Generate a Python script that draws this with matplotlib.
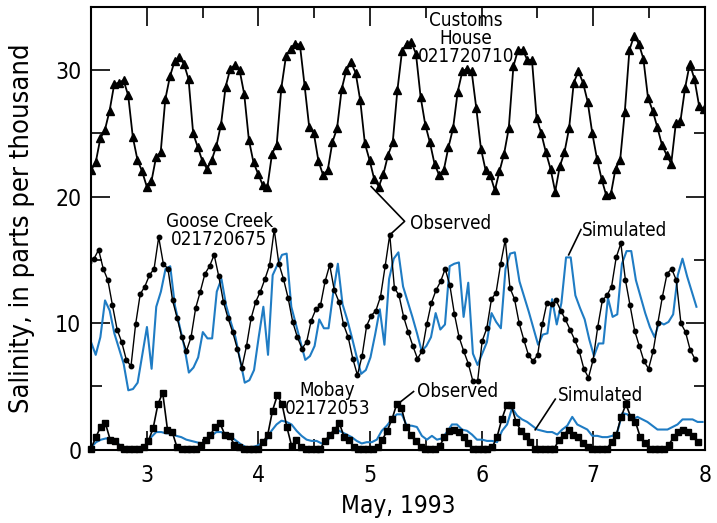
import matplotlib
matplotlib.use("Agg")
import matplotlib.pyplot as plt
import numpy as np
from matplotlib.ticker import MultipleLocator

plt.rcParams['font.family'] = ['DejaVu Sans']
plt.rcParams['font.stretch'] = 'condensed'

BLUE = '#1f7cc4'

# Customs House 021720710, observed (hourly)
customs_obs = [22.1, 22.7, 24.6, 25.3, 26.8, 28.9, 29.0, 29.2, 28.0, 24.7,
               22.9, 22.0, 20.8, 21.2, 23.1, 23.5, 27.7, 29.5, 30.7, 31.0,
               30.5, 29.3, 25.0, 23.9, 22.8, 22.2, 22.9, 24.0, 25.7, 28.7,
               30.1, 30.4, 30.0, 28.1, 24.5, 22.7, 21.8, 20.9, 20.8, 23.4,
               24.1, 28.6, 31.1, 31.7, 32.1, 32.0, 28.8, 25.5, 25.0, 22.8,
               21.7, 22.1, 24.3, 25.4, 28.5, 30.0, 30.6, 29.8, 27.6, 24.2,
               22.9, 21.4, 20.8, 21.8, 23.3, 24.3, 28.4, 31.5, 32.1, 32.2,
               31.3, 27.9, 25.7, 24.3, 22.6, 21.7, 22.1, 23.9, 25.4, 28.3,
               29.9, 30.1, 29.9, 27.0, 23.8, 22.1, 21.7, 20.5, 22.0, 23.4,
               25.4, 30.3, 31.6, 31.6, 30.8, 30.8, 26.2, 25.0, 23.5, 22.2,
               20.4, 22.4, 23.5, 25.4, 29.0, 29.9, 29.0, 27.5, 25.0, 23.0,
               21.4, 20.1, 20.2, 22.2, 22.9, 26.7, 31.6, 32.7, 32.1, 30.9,
               27.8, 26.8, 25.5, 24.1, 23.3, 22.6, 25.8, 26.0, 28.6, 30.5,
               29.3, 27.2, 26.9]

# Goose Creek 021720675
goose_obs = [14.8, 15.1, 15.8, 14.3, 13.4, 11.4, 9.5, 8.5, 7.1, 6.6,
             9.9, 12.3, 12.9, 13.8, 14.3, 16.8, 14.7, 14.3, 11.8, 10.4,
             8.9, 7.8, 8.9, 11.2, 12.5, 13.9, 14.5, 15.4,
             13.7, 11.7, 10.4, 9.3, 8.0, 6.5, 8.2, 10.4, 11.7, 12.5,
             13.5, 14.6, 17.4, 14.7, 13.5, 12.0, 10.1, 8.9, 8.0, 8.5,
             10.2, 11.1, 11.4, 13.3, 14.6, 12.6,
             11.7, 9.9, 8.9, 7.2, 5.9, 7.4, 9.8, 10.6, 11.0, 12.1,
             14.5, 17.0, 12.8, 12.2, 10.5, 9.3, 8.2, 7.2, 7.8, 9.9,
             11.6, 12.6, 13.3, 14.3, 13.0, 10.7, 8.9,
             7.8, 6.8, 5.4, 5.4, 8.6, 9.6, 11.9, 12.4, 14.7, 16.6,
             12.8, 11.9, 10.0, 8.7, 7.5, 7.0, 7.5, 9.9, 11.6, 11.5,
             11.8, 11.0, 10.3, 9.5, 8.7, 7.8,
             6.4, 5.7, 7.1, 9.7, 11.8, 12.2, 12.9, 15.2, 16.3, 13.4,
             11.4, 9.4, 8.2, 7.0, 6.4, 7.8, 10.0, 12.1, 13.9, 14.3,
             13.4, 10.0, 9.3, 7.9, 7.2]
goose_sim = [8.5, 7.5, 8.9, 11.8, 11.0, 9.2, 8.0, 6.8, 4.7, 4.8,
             5.3, 7.5, 9.7, 6.4, 11.3, 12.5, 14.3, 14.5, 11.4, 9.8,
             8.2, 6.1, 6.5, 7.3, 9.3, 8.8, 8.8, 12.5, 13.5, 11.4,
             10.1, 8.9, 7.1, 5.3, 5.5, 6.3, 8.9, 11.3, 7.5, 13.8,
             14.6, 15.4, 15.5, 11.3, 9.9, 8.5, 7.1, 7.4, 8.2, 10.3,
             9.6, 9.6, 12.4, 14.7, 11.5, 10.3, 8.9, 7.4, 6.0, 6.3,
             7.3, 9.1, 11.1, 8.3, 13.5, 15.1, 15.6, 12.9, 11.7, 10.5,
             9.2, 7.8, 8.2, 8.9, 10.8, 9.5, 9.9, 14.5, 14.7, 14.8,
             10.5, 13.2, 7.6, 6.7, 7.6, 8.5, 10.8, 10.1, 9.6, 14.3,
             15.5, 15.6, 13.3, 12.1, 10.9, 9.6, 8.3, 9.1, 9.2, 11.9,
             9.9, 11.6, 15.2, 15.2, 12.2, 11.2, 10.3, 8.7, 7.4, 8.4,
             8.4, 12.0, 10.5, 10.7, 14.7, 15.7, 15.7, 13.4, 12.1, 10.8,
             9.7, 8.9, 10.1, 9.9, 10.1, 10.7, 13.8, 15.1, 13.7, 12.5,
             11.3]

# Mobay 02172053
mobay_obs = [0.1, 1.0, 1.8, 2.1, 0.8, 0.7, 0.2, 0.1, 0.1, 0.1,
             0.1, 0.2, 0.7, 1.7, 3.6, 4.5, 1.6, 1.4, 0.2, 0.1,
             0.1, 0.1, 0.1, 0.4, 0.8, 1.2, 1.8, 2.1, 1.2, 1.1,
             0.4, 0.2, 0.1, 0.1, 0.1, 0.1, 0.6, 1.2, 3.1, 4.3,
             3.6, 1.8, 0.3, 0.8, 0.2, 0.1, 0.1, 0.1, 0.1, 0.7,
             1.2, 1.6, 2.1, 1.0, 0.8, 0.2, 0.1, 0.1, 0.1, 0.1,
             0.2, 0.8, 1.5, 2.4, 3.6, 3.3, 1.8, 1.2, 0.7, 0.2,
             0.1, 0.1, 0.1, 0.3, 1.0, 1.5, 1.6, 1.4, 1.0, 0.5,
             0.1, 0.1, 0.1, 0.1, 0.2, 1.0, 2.4, 3.5, 3.5, 2.2,
             1.5, 1.1, 0.6, 0.1, 0.1, 0.1, 0.1, 0.1, 0.8, 1.2,
             1.6, 1.2, 1.0, 0.5, 0.2, 0.1, 0.1, 0.1, 0.1, 0.6,
             1.2, 2.6, 3.6, 2.6, 2.2, 1.0, 0.5, 0.1, 0.1, 0.1,
             0.1, 0.4, 1.0, 1.4, 1.6, 1.4, 1.1, 0.6]
mobay_sim = [0.2, 0.6, 0.8, 0.9, 0.8, 0.6, 0.3, 0.1, 0.1, 0.1,
             0.1, 0.3, 1.0, 1.4, 1.4, 1.3, 1.3, 1.1, 1.0, 0.8,
             0.7, 0.6, 0.5, 0.7, 1.1, 1.4, 1.4, 1.1, 1.0, 0.7,
             0.4, 0.2, 0.2, 0.3, 0.5, 0.8, 1.5, 2.0, 2.3, 2.2,
             2.0, 1.5, 1.1, 0.8, 0.7, 0.7, 0.5, 0.6, 1.2, 1.6,
             1.4, 1.2, 1.0, 0.7, 0.5, 0.6, 0.6, 0.8, 1.5, 1.9,
             2.4, 2.8, 2.8, 1.9, 1.9, 1.8, 1.1, 0.8, 1.1, 0.8,
             0.9, 1.4, 2.0, 2.0, 1.6, 1.5, 1.2, 0.8, 0.8, 0.7,
             0.7, 0.6, 1.5, 2.0, 3.3, 2.7, 2.4, 2.2, 1.9, 1.6,
             1.5, 1.4, 1.4, 1.2, 1.6, 1.9, 2.6, 2.0, 1.8, 1.6,
             1.1, 1.1, 1.0, 1.0, 1.1, 1.4, 2.9, 2.8, 2.4, 2.6,
             2.4, 2.2, 1.9, 1.6, 1.6, 1.6, 1.8, 2.0, 2.4, 2.4,
             2.4, 2.2, 2.2]

# time spans (day of May 1993) covered by each record
customs_span = (2.50, 7.99)
goose_obs_span = (2.485, 7.91)
goose_sim_span = (2.50, 7.925)
mobay_obs_span = (2.50, 7.935)
mobay_sim_span = (2.50, 7.98)


def times(span, values):
    return np.linspace(span[0], span[1], len(values))


fig = plt.figure(figsize=(7.17, 5.23), dpi=100)
ax = fig.add_axes([0.127, 0.140, 0.856, 0.847])

ax.plot(times(customs_span, customs_obs), customs_obs, color='black', lw=1.3,
        marker='^', ms=5.5, zorder=3)
ax.plot(times(goose_sim_span, goose_sim), goose_sim, color=BLUE, lw=1.5, zorder=2)
ax.plot(times(goose_obs_span, goose_obs), goose_obs, color='black', lw=1.0,
        marker='o', ms=3.2, zorder=3)
ax.plot(times(mobay_sim_span, mobay_sim), mobay_sim, color=BLUE, lw=1.5, zorder=2)
ax.plot(times(mobay_obs_span, mobay_obs), mobay_obs, color='black', lw=1.2,
        marker='s', ms=4.8, zorder=3, clip_on=False)

ax.set_xlim(2.5, 8)
ax.set_ylim(0, 35)
ax.xaxis.set_major_locator(MultipleLocator(1))
ax.xaxis.set_minor_locator(MultipleLocator(0.5))
ax.yaxis.set_major_locator(MultipleLocator(10))
ax.yaxis.set_minor_locator(MultipleLocator(5))
ax.tick_params(which='both', direction='in', top=True, right=True,
               labelsize=16.5, width=1.2)
ax.tick_params(which='major', length=14, pad=7)
ax.tick_params(axis='x', which='major', pad=10)
ax.tick_params(which='minor', length=8)
for s in ax.spines.values():
    s.set_linewidth(1.5)

ax.set_xlabel('May, 1993', fontsize=17.5)
ax.set_ylabel('Salinity, in parts per thousand', fontsize=19.5)
ax.xaxis.set_label_coords(0.5, -0.1)
ax.yaxis.set_label_coords(-0.092, 0.5)

tkw = dict(fontsize=13.5, ha='center', va='center', linespacing=0.95)
ax.text(5.86, 32.5, 'Customs\nHouse\n021720710', **tkw)
ax.text(3.65, 17.3, 'Goose Creek\n021720675', **tkw)
ax.text(4.62, 3.95, 'Mobay\n02172053', **tkw)

lkw = dict(color='black', lw=1.2)
ax.plot([5.01, 5.31, 5.18], [20.8, 18.05, 17.0], **lkw)
ax.text(5.36, 17.9, 'Observed', fontsize=13.5, va='center', ha='left')
ax.plot([6.78, 6.89], [15.4, 17.4], **lkw)
ax.text(6.90, 17.3, 'Simulated', fontsize=13.5, va='center', ha='left')
ax.plot([5.24, 5.39], [3.56, 4.6], **lkw)
ax.text(5.42, 4.6, 'Observed', fontsize=13.5, va='center', ha='left')
ax.plot([6.48, 6.66], [1.58, 4.0], **lkw)
ax.text(6.68, 4.3, 'Simulated', fontsize=13.5, va='center', ha='left')

fig.savefig('out.png', dpi=100)
